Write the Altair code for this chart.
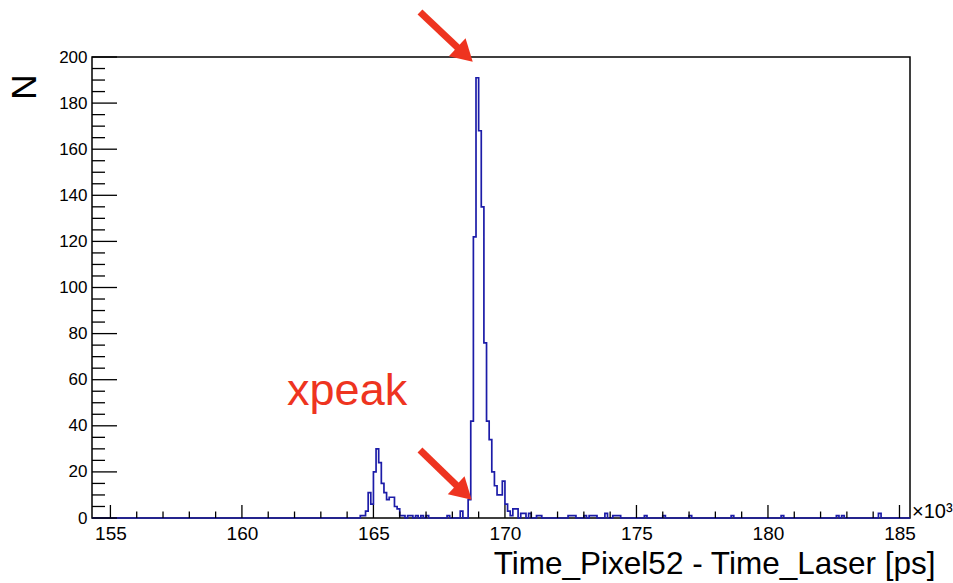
import altair as alt
import numpy as np
import pandas as pd

# ---- histogram data (x in units of 10^3 ps, bin width 0.1) ----
bin_left = [164.5, 164.6, 164.7, 164.8, 164.9, 165.0, 165.1, 165.2, 165.3, 165.4,
            165.5, 165.6, 165.7, 165.8, 165.9, 166.0, 166.1, 166.3, 166.4, 166.6,
            166.8, 167.0, 167.8, 168.3, 168.6, 168.7, 168.8, 168.9, 169.0, 169.1,
            169.2, 169.3, 169.4, 169.5, 169.6, 169.7, 169.8, 169.9, 170.0, 170.1,
            170.2, 170.3, 170.4, 170.6, 170.7, 170.9, 171.2, 171.3, 172.4, 172.5,
            172.6, 173.0, 173.2, 173.3, 173.4, 173.8, 174.1, 174.2, 174.3, 175.3,
            176.0, 177.0, 178.6, 180.5, 182.6, 182.8, 184.2]
counts = [1, 1, 3, 11, 6, 20, 30, 24, 15, 11,
          8, 9, 9, 5, 4, 1, 1, 1, 1, 1,
          1, 1, 1, 3, 8, 42, 122, 191, 168, 135,
          76, 42, 34, 20, 14, 10, 10, 16, 6, 3,
          1, 4, 4, 2, 2, 2, 1, 1, 1, 1,
          1, 1, 1, 1, 1, 2, 1, 1, 1, 1,
          1, 1, 1, 1, 1, 1, 2]
assert len(bin_left) == len(counts)

x_min, x_max, bin_w = 154.3, 185.4, 0.1

x_major = [155, 160, 165, 170, 175, 180, 185]
x_minor = [156, 157, 158, 159, 161, 162, 163, 164, 166, 167, 168, 169,
           171, 172, 173, 174, 176, 177, 178, 179, 181, 182, 183, 184]
y_major = [0, 20, 40, 60, 80, 100, 120, 140, 160, 180, 200]
y_minor = [v for v in range(0, 201, 5) if v % 20 != 0]

# annotations (data coordinates)
arrow_tail_x = [166.77, 166.77]
arrow_tail_y = [219.5, 29.5]
arrow_head_x = [168.48, 168.44]
arrow_head_y = [201.1, 11.1]
label_text = ["xpeak"]
label_x = [164.0]
label_y = [49.0]

# ---- build full step table ----
n_bins = int(round((x_max - x_min) / bin_w))
lookup = {round(b, 1): c for b, c in zip(bin_left, counts)}
edges = [round(x_min + i * bin_w, 1) for i in range(n_bins)]
vals = [lookup.get(e, 0) for e in edges]
edges.append(x_max)
vals.append(vals[-1])
hist_df = pd.DataFrame({"x": edges, "n": vals})

FONT = "Liberation Sans"
W, H = 818, 461
BLUE = "#1c1ca8"
RED = "#ee3420"

xs = alt.Scale(domain=[x_min, x_max], nice=False, zero=False)
ys = alt.Scale(domain=[0, 200], nice=False, zero=True)

x_axis = alt.Axis(values=x_major, ticks=False, domain=False, grid=False, format="d",
                  labelFont=FONT, labelFontSize=19, labelColor="black", labelPadding=6,
                  title="Time_Pixel52 - Time_Laser [ps]", titleFont=FONT,
                  titleFontSize=31.5, titleFontWeight="normal", titleColor="black",
                  titleAnchor="end", titleAlign="right", titleBaseline="alphabetic",
                  titleX=843, titleY=55)
y_axis = alt.Axis(values=y_major, ticks=False, domain=False, grid=False, format="d",
                  labelFont=FONT, labelFontSize=17, labelColor="black", labelPadding=5,
                  title="N", titleFont=FONT, titleFontSize=35, titleFontWeight="normal",
                  titleColor="black", titleAngle=270, titleAlign="right",
                  titleBaseline="alphabetic", titleX=-57, titleY=17)

hist = alt.Chart(hist_df).mark_line(interpolate="step-after", color=BLUE,
                                    strokeWidth=1.7).encode(
    x=alt.X("x:Q", scale=xs, axis=x_axis),
    y=alt.Y("n:Q", scale=ys, axis=y_axis),
)

xmaj_df = pd.DataFrame({"v": x_major})
xmin_df = pd.DataFrame({"v": x_minor})
ymaj_df = pd.DataFrame({"v": y_major})
ymin_df = pd.DataFrame({"v": y_minor})

xt_major = alt.Chart(xmaj_df).mark_rule(color="black", strokeWidth=1.3).encode(
    x=alt.X("v:Q", scale=xs), y=alt.value(H), y2=alt.value(H - 13))
xt_minor = alt.Chart(xmin_df).mark_rule(color="black", strokeWidth=1.3).encode(
    x=alt.X("v:Q", scale=xs), y=alt.value(H), y2=alt.value(H - 6.5))
yt_major = alt.Chart(ymaj_df).mark_rule(color="black", strokeWidth=1.3).encode(
    y=alt.Y("v:Q", scale=ys), x=alt.value(0), x2=alt.value(25))
yt_minor = alt.Chart(ymin_df).mark_rule(color="black", strokeWidth=1.3).encode(
    y=alt.Y("v:Q", scale=ys), x=alt.value(0), x2=alt.value(13))

arr_df = pd.DataFrame({"x1": arrow_tail_x, "y1": arrow_tail_y,
                       "x2": arrow_head_x, "y2": arrow_head_y})
shaft = alt.Chart(arr_df).mark_rule(color=RED, strokeWidth=7, clip=False).encode(
    x=alt.X("x1:Q", scale=xs), y=alt.Y("y1:Q", scale=ys),
    x2="x2:Q", y2="y2:Q")
head = alt.Chart(arr_df).mark_point(shape="triangle-up", filled=True, color=RED,
                                    opacity=1, size=600, angle=133, clip=False).encode(
    x=alt.X("x2:Q", scale=xs), y=alt.Y("y2:Q", scale=ys))

lab_df = pd.DataFrame({"t": label_text, "x": label_x, "y": label_y})
label = alt.Chart(lab_df).mark_text(font=FONT, fontSize=45, color=RED, align="center",
                                    baseline="alphabetic").encode(
    x=alt.X("x:Q", scale=xs), y=alt.Y("y:Q", scale=ys), text="t:N")

exp_df = pd.DataFrame({"t": ["×10³"]})
exponent = alt.Chart(exp_df).mark_text(font=FONT, fontSize=20, color="black",
                                       align="left", baseline="alphabetic",
                                       clip=False).encode(
    x=alt.value(820), y=alt.value(461), text="t:N")

chart = alt.layer(hist, xt_major, xt_minor, yt_major, yt_minor, shaft, head, label,
                  exponent).properties(
    width=W, height=H,
    padding={"left": 92, "top": 57, "right": 43, "bottom": 65},
    autosize=alt.AutoSizeParams(type="none"),
    background="white",
).configure_view(stroke="black", strokeWidth=1.5)

chart.save("out.html", embed_options={"renderer": "svg", "actions": False})
